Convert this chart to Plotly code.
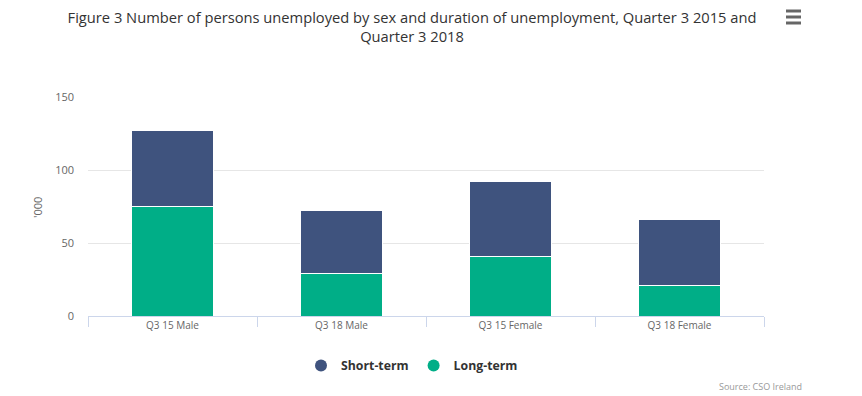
import plotly.graph_objects as go

categories = ["Q3 15 Male", "Q3 18 Male", "Q3 15 Female", "Q3 18 Female"]
long_term = [75.0, 29.2, 41.0, 21.0]
short_term = [52.4, 43.4, 51.0, 44.8]
y_ticks = [0, 50, 100, 150]

# page body has an 8px margin: work in screen pixels and convert
OFF = 8
W, H = 862 - OFF, 396 - OFF
PL, PR, PT, PB = 88, 764, 97, 316  # plot area in screen px
L, R, T, B = PL - OFF, W - (PR - OFF), PT - OFF, H - (PB - OFF)
PW, PH = W - L - R, H - T - B


def px(x):
    return (x - OFF - L) / PW


def py(y):
    return ((H - B) - (y - OFF)) / PH


fig = go.Figure()
fig.add_trace(go.Bar(x=categories, y=long_term, name="Long-term",
                     marker=dict(color="#00ae87", line=dict(color="#ffffff", width=1)),
                     width=0.48, showlegend=False))
fig.add_trace(go.Bar(x=categories, y=short_term, name="Short-term",
                     marker=dict(color="#3f537e", line=dict(color="#ffffff", width=1)),
                     width=0.48, showlegend=False))
# legend-only markers (ordered Short-term, Long-term)
fig.add_trace(go.Scatter(x=[None], y=[None], mode="markers", name="Short-term",
                         marker=dict(color="#3f537e", size=12)))
fig.add_trace(go.Scatter(x=[None], y=[None], mode="markers", name="Long-term",
                         marker=dict(color="#00ae87", size=12)))

fig.update_layout(
    width=W, height=H,
    margin=dict(l=L, r=R, t=T, b=B, autoexpand=False),
    barmode="stack",
    paper_bgcolor="white", plot_bgcolor="white",
    font=dict(family="Open Sans, DejaVu Sans, sans-serif", color="#666666"),
    title=dict(text="Figure 3 Number of persons unemployed by sex and duration of unemployment, Quarter 3 2015 and<br>Quarter 3 2018",
               x=(412 - OFF) / W, xanchor="center", xref="container",
               y=1 - 15 / H, yanchor="middle", yref="container",
               font=dict(size=14.7, color="#333333", family="Open Sans, sans-serif")),
    xaxis=dict(type="category", tickson="boundaries", ticks="outside", ticklen=10,
               tickcolor="#ccd6eb", linecolor="#ccd6eb", showline=True, showgrid=False,
               tickfont=dict(size=10, color="#666666"), fixedrange=True, automargin=False),
    yaxis=dict(range=[0, 150], tickvals=y_ticks, showgrid=True, gridcolor="#e6e6e6",
               zeroline=False, showline=False, tickfont=dict(size=11, color="#666666"),
               ticks="", ticklabelstandoff=13,
               fixedrange=True, automargin=False),
    legend=dict(orientation="h", x=px(412), xanchor="center", y=py(351), yanchor="top",
                font=dict(size=12.3, color="#333333", family="Open Sans, sans-serif", weight="bold"),
                traceorder="normal", itemsizing="constant"),
    hovermode=False,
    annotations=[
        dict(text="'000", xref="paper", yref="paper", x=px(37), xanchor="center",
             y=py(208), yanchor="middle", textangle=-90, showarrow=False,
             font=dict(size=11, color="#666666")),
        dict(text="Source: CSO Ireland", xref="paper", yref="paper",
             x=px(804), xanchor="right", y=py(386), yanchor="middle",
             showarrow=False, font=dict(size=9, color="#999999")),
    ],
)

# hamburger menu icon
for yy in [11, 17, 23]:
    fig.add_shape(type="line", xref="paper", yref="paper",
                  x0=px(786), x1=px(801), y0=py(yy), y1=py(yy),
                  line=dict(color="#666666", width=3))

fig.write_html("out.html", config={"displayModeBar": False})
